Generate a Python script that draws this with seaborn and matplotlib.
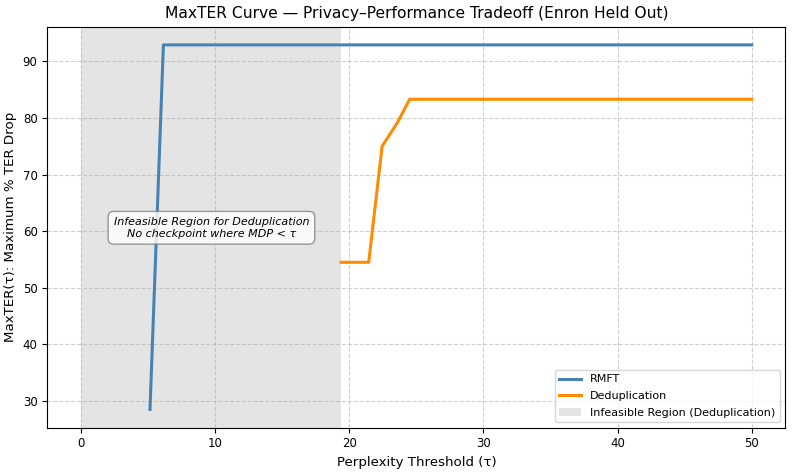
import matplotlib
matplotlib.use("Agg")
import matplotlib.pyplot as plt
import seaborn as sns
import pandas as pd

rmft_tau = [5.15, 6.15, 50.0]
rmft_maxter = [28.5, 92.9, 92.9]
dedup_tau = [19.4, 21.45, 22.45, 23.6, 24.5, 50.0]
dedup_maxter = [54.5, 54.5, 75.0, 79.2, 83.3, 83.3]
infeasible_end = 19.4

plt.rcParams.update(plt.rcParamsDefault)
plt.rcParams['font.family'] = ['DejaVu Sans']

fig, ax = plt.subplots(figsize=(7.93, 4.72), dpi=100)

ax.axvspan(0, infeasible_end, color='lightgray', alpha=0.6, lw=0,
           label='Infeasible Region (Deduplication)', zorder=0)

df_r = pd.DataFrame({'tau': rmft_tau, 'maxter': rmft_maxter})
df_d = pd.DataFrame({'tau': dedup_tau, 'maxter': dedup_maxter})
sns.lineplot(data=df_r, x='tau', y='maxter', ax=ax, color='steelblue', lw=2.2,
             label='RMFT', sort=False, estimator=None)
sns.lineplot(data=df_d, x='tau', y='maxter', ax=ax, color='darkorange', lw=2.2,
             label='Deduplication', sort=False, estimator=None)

ax.text(9.73, 60.6, 'Infeasible Region for Deduplication\nNo checkpoint where MDP < τ',
        ha='center', va='center', fontsize=8, style='italic',
        bbox=dict(boxstyle='round,pad=0.5', facecolor='white', edgecolor='gray', alpha=0.8))

ax.set_title('MaxTER Curve — Privacy–Performance Tradeoff (Enron Held Out)', fontsize=11.2)
ax.set_xlabel('Perplexity Threshold (τ)', fontsize=9.6)
ax.set_ylabel('MaxTER(τ): Maximum % TER Drop', fontsize=9.6)
ax.tick_params(labelsize=8.5)
ax.grid(True, linestyle='--', alpha=0.6)

handles, labels = ax.get_legend_handles_labels()
order = [labels.index('RMFT'), labels.index('Deduplication'),
         labels.index('Infeasible Region (Deduplication)')]
ax.legend([handles[i] for i in order], [labels[i] for i in order],
          loc='lower right', fontsize=8, labelspacing=0.6)

fig.subplots_adjust(left=0.0597, right=0.9903, top=0.9435, bottom=0.0938)
plt.savefig('out.png', dpi=100)
